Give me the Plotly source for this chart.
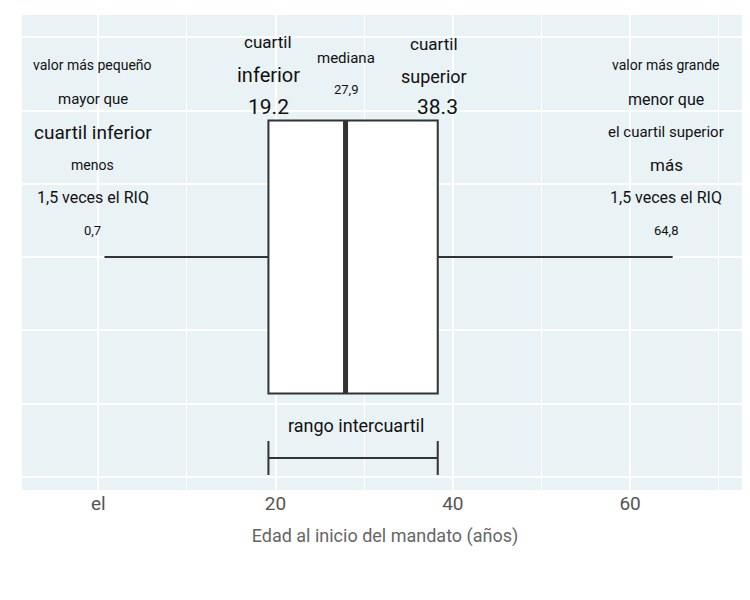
import plotly.graph_objects as go

# resumen de cinco números
minimo = 0.7
q1 = 19.2
mediana = 27.9
q3 = 38.3
maximo = 64.8

tick_vals = [0, 20, 40, 60]
tick_text = ["el", "20", "40", "60"]

izq = ["valor más pequeño", "mayor que", "cuartil inferior", "menos", "1,5 veces el RIQ", "0,7"]
izq_size = [14, 15, 19, 14, 16, 13]
der = ["valor más grande", "menor que", "el cuartil superior", "más", "1,5 veces el RIQ", "64,8"]
der_size = [14, 16, 15, 17, 16, 13]

GRAY = "#333333"
FONT = "Roboto"


def yu(py):
    # pixel row -> y units (grid spacing ~73 px)
    return (477 - py) / 73.3


fig = go.Figure()
fig.add_trace(go.Box(
    q1=[q1], median=[mediana], q3=[q3], lowerfence=[minimo], upperfence=[maximo],
    y=[yu(257)], orientation="h", width=yu(120) - yu(393),
    fillcolor="white", line=dict(color=GRAY, width=2), whiskerwidth=0,
    hoverinfo="skip", showlegend=False))
fig.add_trace(go.Scatter(x=[mediana, mediana], y=[yu(120), yu(393)], mode="lines",
                         line=dict(color=GRAY, width=5), showlegend=False, hoverinfo="skip"))
# IQR bracket
fig.add_trace(go.Scatter(x=[q1, q1, None, q1, q3, None, q3, q3],
                         y=[yu(441), yu(475), None, yu(458), yu(458), None, yu(441), yu(475)],
                         mode="lines", line=dict(color=GRAY, width=2),
                         showlegend=False, hoverinfo="skip"))

ann = []
rows = [65, 99, 132, 165, 197, 230]
for t, s, r in zip(izq, izq_size, rows):
    ann.append(dict(x=-0.6, y=yu(r), text=t, font=dict(size=s)))
for t, s, r in zip(der, der_size, rows):
    ann.append(dict(x=64.1, y=yu(r), text=t, font=dict(size=s)))
ann += [
    dict(x=q1, y=yu(42), text="cuartil", font=dict(size=17)),
    dict(x=q1, y=yu(75), text="inferior", font=dict(size=20)),
    dict(x=q1, y=yu(107), text=str(q1), font=dict(size=21)),
    dict(x=mediana, y=yu(58), text="mediana", font=dict(size=15)),
    dict(x=mediana, y=yu(89), text="27,9", font=dict(size=13)),
    dict(x=q3 - 0.4, y=yu(44), text="cuartil", font=dict(size=17)),
    dict(x=q3 - 0.4, y=yu(76), text="superior", font=dict(size=18)),
    dict(x=q3, y=yu(107), text=str(q3), font=dict(size=21)),
    dict(x=(q1 + q3) / 2 + 0.3, y=yu(425), text="rango intercuartil", font=dict(size=18)),
]
for a in ann:
    a.update(showarrow=False, xref="x", yref="y")
    a["font"].update(color="#111111", family=FONT)

fig.update_layout(
    width=750, height=600, paper_bgcolor="white", plot_bgcolor="#e9f2f5",
    margin=dict(l=14, r=10, t=7, b=118),
    font=dict(family=FONT, color="#555555"),
    annotations=ann, showlegend=False,
    xaxis=dict(range=[-8.6, 73.3], tickvals=tick_vals, ticktext=tick_text,
               tickfont=dict(size=19, color="#555555"), gridcolor="white", gridwidth=2,
               minor=dict(dtick=10, gridcolor="white", gridwidth=1, showgrid=True),
               zeroline=False, showline=False,
               title=dict(text="Edad al inicio del mandato (años)", font=dict(size=18, color="#666666"))),
    yaxis=dict(range=[yu(490), yu(15)], dtick=1, tick0=0, showticklabels=False,
               gridcolor="white", gridwidth=2, zeroline=False),
)
fig.write_html("out.html")
